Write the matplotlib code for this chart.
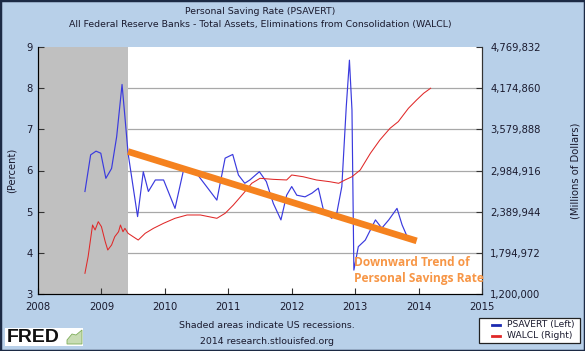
import matplotlib
matplotlib.use("Agg")
import matplotlib.pyplot as plt
from matplotlib.patches import Rectangle, Polygon
from matplotlib.lines import Line2D

# ---- data ----
psavert_t = [2008.74, 2008.83, 2008.915, 2008.99, 2009.07, 2009.16, 2009.24, 2009.325, 2009.37,
             2009.42, 2009.57, 2009.66, 2009.74, 2009.85, 2009.98, 2010.16, 2010.30, 2010.50,
             2010.82, 2010.95, 2011.07, 2011.16, 2011.26, 2011.34, 2011.49, 2011.60, 2011.71,
             2011.83, 2011.92, 2012.00, 2012.08, 2012.21, 2012.32, 2012.42, 2012.50, 2012.63,
             2012.71, 2012.79, 2012.86, 2012.91, 2012.95, 2012.98, 2013.05, 2013.16, 2013.32,
             2013.42, 2013.53, 2013.66, 2013.74, 2013.81]
psavert_v = [5.49, 6.38, 6.47, 6.42, 5.81, 6.05, 6.82, 8.09, 7.31,
             6.42, 4.88, 5.97, 5.49, 5.77, 5.77, 5.08, 6.05, 5.93,
             5.28, 6.30, 6.39, 5.89, 5.69, 5.77, 5.97, 5.73, 5.20,
             4.80, 5.40, 5.61, 5.40, 5.36, 5.45, 5.57, 5.04, 4.84,
             4.96, 5.61, 7.55, 8.68, 7.47, 3.58, 4.15, 4.31, 4.80,
             4.60, 4.80, 5.08, 4.68, 4.43]

walcl_t = [2008.74, 2008.79, 2008.86, 2008.90, 2008.95, 2009.00, 2009.06, 2009.10, 2009.16,
           2009.21, 2009.27, 2009.30, 2009.34, 2009.37, 2009.42, 2009.50, 2009.58, 2009.69,
           2009.82, 2009.98, 2010.16, 2010.35, 2010.56, 2010.82, 2010.95, 2011.08, 2011.24,
           2011.37, 2011.50, 2011.71, 2011.92, 2012.00, 2012.18, 2012.39, 2012.60, 2012.74,
           2012.84, 2012.95, 2013.08, 2013.24, 2013.39, 2013.55, 2013.68, 2013.84, 2013.97,
           2014.08, 2014.19]
walcl_v = [1499000, 1739000, 2197000, 2125000, 2245000, 2173000, 1956000, 1836000, 1908000,
           2028000, 2100000, 2197000, 2100000, 2149000, 2077000, 2028000, 1980000, 2077000,
           2149000, 2222000, 2294000, 2342000, 2342000, 2294000, 2366000, 2486000, 2655000,
           2800000, 2872000, 2857000, 2848000, 2920000, 2895000, 2848000, 2823000, 2800000,
           2848000, 2895000, 2992000, 3233000, 3426000, 3595000, 3691000, 3884000, 4005000,
           4101000, 4174000]

trend_t = [2009.42, 2013.97]
trend_v = [6.46, 4.29]

recession = (2008.0, 2009.42)

x_ticks = [2008, 2009, 2010, 2011, 2012, 2013, 2014, 2015]
left_ticks = [3, 4, 5, 6, 7, 8, 9]
right_ticks = [1200000, 1794972, 2389944, 2984916, 3579888, 4174860, 4769832]

legend_labels = ["PSAVERT (Left)", "WALCL (Right)"]
title1 = "Personal Saving Rate (PSAVERT)"
title2 = "All Federal Reserve Banks - Total Assets, Eliminations from Consolidation (WALCL)"

# ---- figure ----
W, H = 585, 351
bg = "#b8d0e9"
fig = plt.figure(figsize=(W / 100, H / 100), dpi=100, facecolor=bg)
plt.rcParams['font.family'] = ['DejaVu Sans']
fs = 6.75
tfs = 7.2
txtc = "#1a1a2e"
blue, red = "#3a3ade", "#e02828"

L, R, T, B = 38, 482, 47, 294
ax = fig.add_axes([L / W, 1 - B / H, (R - L) / W, (B - T) / H])
ax.set_facecolor("white")
ax.set_xlim(2008, 2015)
ax.set_ylim(3, 9)
ax.axvspan(*recession, color="#c0c0c0", lw=0, zorder=1)
for yv in left_ticks[1:-1]:
    ax.axhline(yv, color="#a8a8a8", lw=0.9, zorder=0.5)
ax.plot(psavert_t, psavert_v, color=blue, lw=0.85, zorder=3)

ax.set_xticks(x_ticks)
ax.set_yticks(left_ticks)
ax.tick_params(axis="both", direction="in", length=4, width=0.8, colors="#333333",
               labelsize=tfs, labelcolor=txtc, pad=4)
ax.tick_params(axis="x", pad=6)
ax.spines["top"].set_visible(False)
for s in ["left", "bottom", "right"]:
    ax.spines[s].set_color("#333333")
    ax.spines[s].set_linewidth(0.8)
ax.set_ylabel("(Percent)", fontsize=tfs, color=txtc, labelpad=7)

ax2 = ax.twinx()
ax2.set_ylim(right_ticks[0], right_ticks[-1])
ax2.set_yticks(right_ticks)
ax2.set_yticklabels([f"{v:,}" for v in right_ticks])
ax2.tick_params(axis="y", direction="in", length=4, width=0.8, colors="#333333",
                labelsize=tfs, labelcolor=txtc, pad=6)
ax2.spines["top"].set_visible(False)
ax2.spines["right"].set_color("#333333")
ax2.plot(walcl_t, walcl_v, color=red, lw=0.75, zorder=3)
ax2.set_ylabel("(Millions of Dollars)", fontsize=tfs, color=txtc, labelpad=21)

# trend overlay drawn on top
ax2.plot(trend_t, trend_v, color="#f5821f", lw=4.8, solid_capstyle="butt",
         transform=ax.transData, zorder=5)
ax2.text(2012.98, 3.56, "Downward Trend of\nPersonal Savings Rate", transform=ax.transData,
         fontsize=8.6, fontweight="bold", color="#f79646", family=["Open Sans"],
         ha="left", va="center", linespacing=1.3, zorder=6)

# titles / footer
cx = (L + R) / 2 / W
fig.text(cx, 1 - 11 / H, title1, ha="center", va="center", fontsize=fs, color=txtc)
fig.text(cx, 1 - 24 / H, title2, ha="center", va="center", fontsize=fs, color=txtc)
fig.text(267 / W, 1 - 326 / H, "Shaded areas indicate US recessions.", ha="center",
         va="center", fontsize=fs, color=txtc)
fig.text(267 / W, 1 - 341 / H, "2014 research.stlouisfed.org", ha="center",
         va="center", fontsize=fs, color=txtc)

# legend box (drawn in figure pixels)
def fx(px):
    return px / W

def fy(py):
    return 1 - py / H

fig.patches.append(Rectangle((fx(479), fy(343)), fx(580) - fx(479), fy(318) - fy(343),
                             transform=fig.transFigure, facecolor="white",
                             edgecolor="#222222", lw=0.9, zorder=4))
for i, (lab, col) in enumerate(zip(legend_labels, ["#1c2ab0", red])):
    yy = fy(325 + 11 * i)
    fig.lines.append(Line2D([fx(492), fx(500)], [yy, yy], transform=fig.transFigure,
                            color=col, lw=2.0, zorder=5))
    fig.text(fx(507), yy, lab, fontsize=6.6, color=txtc, va="center", ha="left", zorder=5)

# FRED logo
fig.patches.append(Rectangle((fx(5), fy(346)), fx(83) - fx(5), fy(328) - fy(346),
                             transform=fig.transFigure, facecolor="white", edgecolor="none",
                             zorder=2))
fig.text(fx(7), fy(337.5), "FRED", fontsize=14, fontweight="bold", color="#111111",
         family=["Liberation Sans"], va="center", ha="left", zorder=3)
fig.patches.append(Polygon([(fx(67), fy(344)), (fx(82), fy(344)), (fx(82), fy(330)),
                            (fx(76), fy(335)), (fx(72), fy(334)), (fx(67), fy(340))],
                           closed=True, transform=fig.transFigure, facecolor="#c8dcb4",
                           edgecolor="#7fae5a", lw=0.6, zorder=3))

# outer border
fig.patches.append(Rectangle((0, 0), 1, 1, transform=fig.transFigure, facecolor="none",
                             edgecolor="#1c2a44", lw=2.5, zorder=10))

fig.savefig("out.png", dpi=100, facecolor=bg)
